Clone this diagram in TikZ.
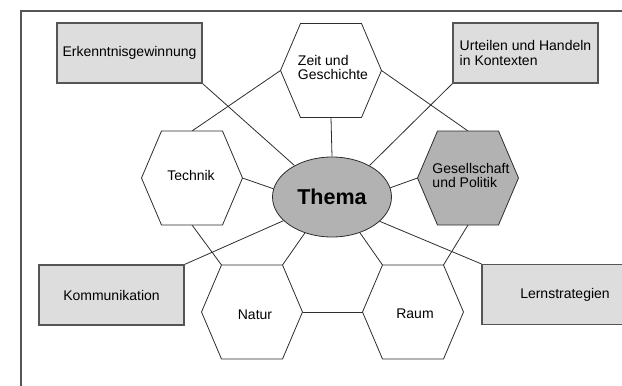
\documentclass[tikz,border=0pt]{standalone}
\usepackage{fontspec}
\setmainfont{Liberation Sans}
\usetikzlibrary{shapes.geometric}
\definecolor{boxfill}{RGB}{221,221,221}
\definecolor{darkfill}{RGB}{178,178,178}
\definecolor{linec}{RGB}{45,45,45}
\definecolor{boxline}{RGB}{85,85,85}
\pgfdeclarelayer{bg}
\pgfsetlayers{bg,main}
\tikzset{
  conn/.style={draw=linec, line width=0.8pt},
  hexshape/.style={draw=linec, line width=0.8pt},
  hextext/.style={inner sep=0pt, align=left, font=\fontsize{14}{14}\selectfont},
  infobox/.style={draw=boxline, fill=boxfill, line width=1.1pt, inner sep=0pt,
    minimum width=145pt, minimum height=60pt, font=\fontsize{14}{15}\selectfont},
  framec/.style={draw=boxline, line width=1.2pt}
}
% name, cx, cy, fill, text, text x, text y
\newcommand\myhex[7]{%
  \coordinate (#1-tl) at (#2-30.5,#3-47);
  \coordinate (#1-tr) at (#2+30.5,#3-47);
  \coordinate (#1-r) at (#2+50.5,#3);
  \coordinate (#1-br) at (#2+30.5,#3+47);
  \coordinate (#1-bl) at (#2-30.5,#3+47);
  \coordinate (#1-l) at (#2-50.5,#3);
  \coordinate (#1-t) at (#2,#3-47);
  \coordinate (#1-b) at (#2,#3+47);
  \filldraw[hexshape, fill=#4] (#1-tl) -- (#1-tr) -- (#1-r) -- (#1-br) -- (#1-bl) -- (#1-l) -- cycle;
  \node[hextext] (#1) at (#6,#7) {#5};
}
\begin{document}
\begin{tikzpicture}[x=1pt, y=-1pt]
\useasboundingbox (0,0) rectangle (622,386);
\clip (0,0) rectangle (622,386);
\draw[framec] (622,11) -- (21,11) -- (21,386);

\myhex{zeit}{331}{70.5}{white}{Zeit und\\Geschichte}{333}{67}
\myhex{tech}{192}{178}{white}{Technik}{191}{175}
\myhex{ges}{468}{178}{darkfill}{Gesellschaft\\und Politik}{471}{175.5}
\myhex{nat}{252}{312}{white}{Natur}{255}{315}
\myhex{raum}{413}{312}{white}{Raum}{415}{314}

\node[ellipse, draw=linec, line width=0.8pt, fill=darkfill, minimum width=119pt,
  minimum height=80pt, inner sep=0pt,
  font=\bfseries\fontsize{21.5}{24}\selectfont] (thema) at (332,197) {Thema};

\node[infobox] (erk) at (129.5,53) {Erkenntnisgewinnung};
\node[infobox, align=left] (urt) at (525.5,53) {Urteilen und Handeln\\in Kontexten};
\node[infobox] (kom) at (111.5,295) {Kommunikation};
\node[infobox, minimum width=166pt] (lern) at (565,294.5) {Lernstrategien};

\begin{pgfonlayer}{bg}
\draw[conn] (zeit-b) -- (thema.90);
\draw[conn] (tech-r) -- (thema.172);
\draw[conn] (ges-l) -- (thema.9);
\draw[conn] (nat-tr) -- (thema.233);
\draw[conn] (raum-tl) -- (thema.308);
\draw[conn] (nat-r) -- (raum-l);
\draw[conn] (zeit-l) -- (tech-t);
\draw[conn] (zeit-r) -- (ges-t);
\draw[conn] (tech-b) -- (nat-tl);
\draw[conn] (ges-b) -- (raum-tr);
\draw[conn] (erk.south east) -- (thema.140);
\draw[conn] (urt.south west) -- (thema.40);
\draw[conn] (kom.north east) -- (thema.206);
\draw[conn] (lern.north west) -- (thema.333);
\end{pgfonlayer}
\end{tikzpicture}
\end{document}
